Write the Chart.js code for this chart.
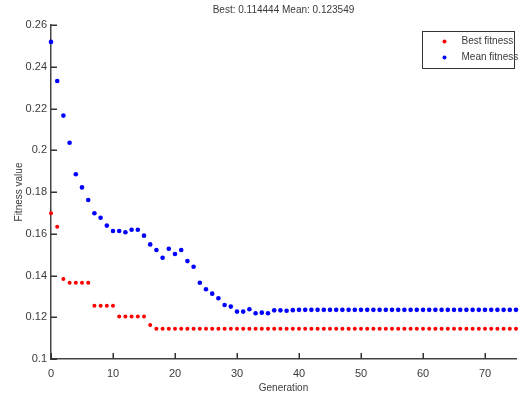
<!DOCTYPE html>
<html>
<head>
<meta charset="utf-8">
<script src="https://cdn.jsdelivr.net/npm/chart.js@4.4.0/dist/chart.umd.min.js"></script>
<style>
  html, body { margin: 0; padding: 0; background: #fff; }
  #wrap { width: 520px; height: 398px; }
</style>
</head>
<body>
<div id="wrap"><canvas id="myChart" width="520" height="398"></canvas></div>
<script>
'use strict';
const generations = [0, 1, 2, 3, 4, 5, 6, 7, 8, 9, 10, 11, 12, 13, 14, 15, 16, 17, 18, 19,
  20, 21, 22, 23, 24, 25, 26, 27, 28, 29, 30, 31, 32, 33, 34, 35, 36, 37, 38, 39,
  40, 41, 42, 43, 44, 45, 46, 47, 48, 49, 50, 51, 52, 53, 54, 55, 56, 57, 58, 59,
  60, 61, 62, 63, 64, 65, 66, 67, 68, 69, 70, 71, 72, 73, 74, 75];

const bestFitness = [0.1698, 0.1634, 0.1383, 0.1365, 0.1365, 0.1365, 0.1365, 0.1255, 0.1255, 0.1255,
  0.1255, 0.1203, 0.1203, 0.1203, 0.1203, 0.1203, 0.1163, 0.114444, 0.114444, 0.114444,
  0.114444, 0.114444, 0.114444, 0.114444, 0.114444, 0.114444, 0.114444, 0.114444, 0.114444, 0.114444,
  0.114444, 0.114444, 0.114444, 0.114444, 0.114444, 0.114444, 0.114444, 0.114444, 0.114444, 0.114444,
  0.114444, 0.114444, 0.114444, 0.114444, 0.114444, 0.114444, 0.114444, 0.114444, 0.114444, 0.114444,
  0.114444, 0.114444, 0.114444, 0.114444, 0.114444, 0.114444, 0.114444, 0.114444, 0.114444, 0.114444,
  0.114444, 0.114444, 0.114444, 0.114444, 0.114444, 0.114444, 0.114444, 0.114444, 0.114444, 0.114444,
  0.114444, 0.114444, 0.114444, 0.114444, 0.114444, 0.114444];

const meanFitness = [0.2519, 0.2332, 0.2166, 0.2036, 0.1885, 0.1822, 0.1762, 0.1698, 0.1677, 0.1639,
  0.1613, 0.1613, 0.1607, 0.1619, 0.1619, 0.1591, 0.1549, 0.1522, 0.1485, 0.1528,
  0.1503, 0.1522, 0.1469, 0.1442, 0.1365, 0.1334, 0.1313, 0.1291, 0.1259, 0.1251,
  0.1227, 0.1227, 0.1238, 0.1219, 0.1222, 0.1219, 0.1233, 0.1233, 0.1231, 0.1234,
  0.123549, 0.123549, 0.123549, 0.123549, 0.123549, 0.123549, 0.123549, 0.123549, 0.123549, 0.123549,
  0.123549, 0.123549, 0.123549, 0.123549, 0.123549, 0.123549, 0.123549, 0.123549, 0.123549, 0.123549,
  0.123549, 0.123549, 0.123549, 0.123549, 0.123549, 0.123549, 0.123549, 0.123549, 0.123549, 0.123549,
  0.123549, 0.123549, 0.123549, 0.123549, 0.123549, 0.123549];

const xTicks = [0, 10, 20, 30, 40, 50, 60, 70];
const yTicks = [0.1, 0.12, 0.14, 0.16, 0.18, 0.2, 0.22, 0.24, 0.26];
const yTickLabels = ['0.1', '0.12', '0.14', '0.16', '0.18', '0.2', '0.22', '0.24', '0.26'];
const seriesNames = ['Best fitness', 'Mean fitness'];

const FONT = '"Liberation Sans", Arial, sans-serif';
const AXIS_COLOR = '#444';
const TEXT_COLOR = '#3a3a3a';

function toPoints(values) {
  return values.map((v, i) => ({ x: generations[i], y: v }));
}

// matlab style: title over the axes, inward ticks, boxed legend in the corner
const matlabBits = {
  id: 'matlabBits',
  afterDatasetsDraw(chart) {
    const c = chart.ctx;
    const area = chart.chartArea;
    const xs = chart.scales.x;
    const ys = chart.scales.y;
    c.save();

    // inward tick marks
    c.fillStyle = '#333';
    xTicks.forEach(v => {
      const px = Math.round(xs.getPixelForValue(v));
      c.fillRect(px - 0.5, Math.round(area.bottom) - 6, 1.5, 6);
    });
    yTicks.forEach(v => {
      const py = Math.round(ys.getPixelForValue(v));
      c.fillRect(Math.round(area.left), py - 0.5, 6, 1.5);
    });

    // title
    const best = bestFitness[bestFitness.length - 1];
    const mean = meanFitness[meanFitness.length - 1];
    c.fillStyle = TEXT_COLOR;
    c.font = '10px ' + FONT;
    c.textAlign = 'center';
    c.textBaseline = 'middle';
    c.fillText('Best: ' + best.toFixed(6) + ' Mean: ' + mean.toFixed(6), (area.left + area.right) / 2, 10);

    // legend
    const boxW = 92, boxH = 37;
    const bx = area.right - 2 - boxW + 0.5;
    const by = area.top + 6 + 0.5;
    c.fillStyle = '#fff';
    c.fillRect(bx, by, boxW, boxH);
    c.strokeStyle = '#333';
    c.lineWidth = 1;
    c.strokeRect(bx, by, boxW, boxH);
    c.font = '10px ' + FONT;
    c.textAlign = 'left';
    chart.data.datasets.forEach((ds, i) => {
      const ry = by + 10 + i * 16;
      c.fillStyle = ds.backgroundColor;
      c.beginPath();
      c.arc(bx + 22, ry, 2, 0, Math.PI * 2);
      c.fill();
      c.fillStyle = TEXT_COLOR;
      c.fillText(ds.label, bx + 39, ry);
    });
    c.restore();
  }
};

const chart = new Chart(document.getElementById('myChart').getContext('2d'), {
  type: 'scatter',
  data: {
    datasets: [{
      label: seriesNames[0],
      data: toPoints(bestFitness),
      backgroundColor: '#ff0000',
      borderColor: '#ff0000',
      pointRadius: 2,
      pointBorderWidth: 0,
      clip: false
    },
    {
      label: seriesNames[1],
      data: toPoints(meanFitness),
      backgroundColor: '#0000ff',
      borderColor: '#0000ff',
      pointRadius: 2.3,
      pointBorderWidth: 0,
      clip: false
    }]
  },
  options: {
    responsive: false,
    animation: false,
    layout: { padding: { top: 25, right: 2, left: 0, bottom: 0 } },
    plugins: {
      legend: { display: false },
      tooltip: { enabled: false }
    },
    scales: {
      x: {
        type: 'linear',
        min: 0,
        max: 75,
        afterBuildTicks: s => { s.ticks = xTicks.map(v => ({ value: v })); },
        afterFit: s => { s.height = 39; },
        grid: { display: false, drawTicks: false },
        border: { display: true, color: AXIS_COLOR, width: 1.5 },
        ticks: { color: TEXT_COLOR, font: { family: FONT, size: 11 }, padding: 8, maxRotation: 0 },
        title: { display: true, text: 'Generation', color: TEXT_COLOR, font: { family: FONT, size: 10 }, padding: { top: 0, bottom: 4 } }
      },
      y: {
        type: 'linear',
        min: 0.1,
        max: 0.26,
        afterBuildTicks: s => { s.ticks = yTicks.map(v => ({ value: v })); },
        afterFit: s => { s.width = 51; },
        grid: { display: false, drawTicks: false },
        border: { display: true, color: AXIS_COLOR, width: 1.5 },
        ticks: {
          color: TEXT_COLOR,
          font: { family: FONT, size: 11 },
          padding: 4,
          callback: v => yTickLabels[yTicks.indexOf(v)]
        },
        title: { display: true, text: 'Fitness value', color: TEXT_COLOR, font: { family: FONT, size: 10 }, padding: { top: 13, bottom: 0 } }
      }
    }
  },
  plugins: [matlabBits]
});
</script>
</body>
</html>
